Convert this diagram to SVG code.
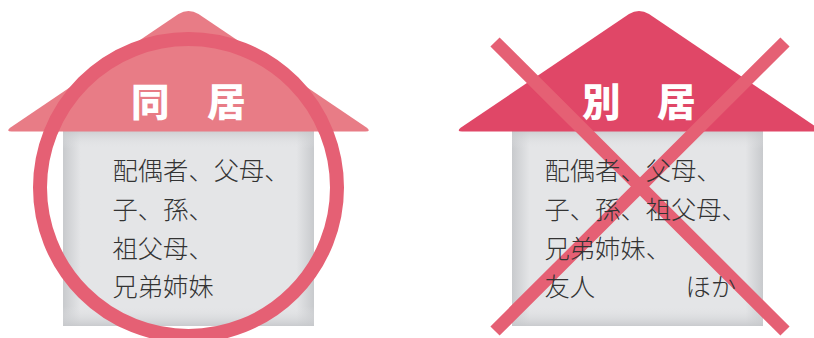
<svg xmlns="http://www.w3.org/2000/svg" width="814" height="338" viewBox="0 0 814 338">
<style>
.body{font-family:"Noto Sans CJK JP","Liberation Sans",sans-serif;font-size:25.300px;font-weight:300;fill:#333}
.title{font-family:"Noto Sans CJK JP","Liberation Sans",sans-serif;font-size:38.500px;font-weight:900;fill:#fff}
.mark{fill:none;stroke:#e56074}
</style>
<defs>
<linearGradient id="gl" x1="0" x2="1" y1="0" y2="0"><stop offset="0" stop-color="#c8cacd"/><stop offset=".07" stop-color="#e4e5e7"/><stop offset=".93" stop-color="#e4e5e7"/><stop offset="1" stop-color="#c8cacd"/></linearGradient>
<linearGradient id="gv" x1="0" x2="0" y1="0" y2="1"><stop offset="0" stop-color="#c6c8cb" stop-opacity=".75"/><stop offset=".09" stop-color="#e4e5e7" stop-opacity="0"/><stop offset=".9" stop-color="#e4e5e7" stop-opacity="0"/><stop offset="1" stop-color="#c6c8cb" stop-opacity=".9"/></linearGradient>
<path id="roof" d="M-177 131.500Q-183 131.500 -178 127.500L-10 14Q0 8 10 14L178 127.500Q183 131.500 177 131.500Z"/>
</defs>
<g id="house-left">
<rect x="63" y="131" width="251" height="195" fill="url(#gl)"/>
<rect x="63" y="131" width="251" height="195" fill="url(#gv)"/>
<use href="#roof" x="188.500" fill="#e87c86"/>
<text class="title" x="131" y="116">同</text>
<text class="title" x="207" y="116">居</text>
<text class="body" x="112.500" y="180">配偶者、父母、</text>
<text class="body" x="112.500" y="219">子、孫、</text>
<text class="body" x="112.500" y="257.500">祖父母、</text>
<text class="body" x="112.500" y="296">兄弟姉妹</text>
</g>
<g id="house-right">
<rect x="512" y="131" width="251" height="195" fill="url(#gl)"/>
<rect x="512" y="131" width="251" height="195" fill="url(#gv)"/>
<use href="#roof" x="639" fill="#e04767"/>
</g>
<g id="connectors">
<circle class="mark" cx="188.500" cy="187.500" r="148.500" stroke-width="14"/>
<path class="mark" stroke-width="13" d="M495 42L785 331M785 42L495 331"/>
</g>
<g id="labels-right">
<text class="title" x="582" y="116">別</text>
<text class="title" x="657" y="116">居</text>
<text class="body" x="544.500" y="180">配偶者、父母、</text>
<text class="body" x="544.500" y="219">子、孫、祖父母、</text>
<text class="body" x="544.500" y="257.500">兄弟姉妹、</text>
<text class="body" x="544.500" y="296">友人</text>
<text class="body" x="685.500" y="296">ほか</text>
</g>
</svg>
